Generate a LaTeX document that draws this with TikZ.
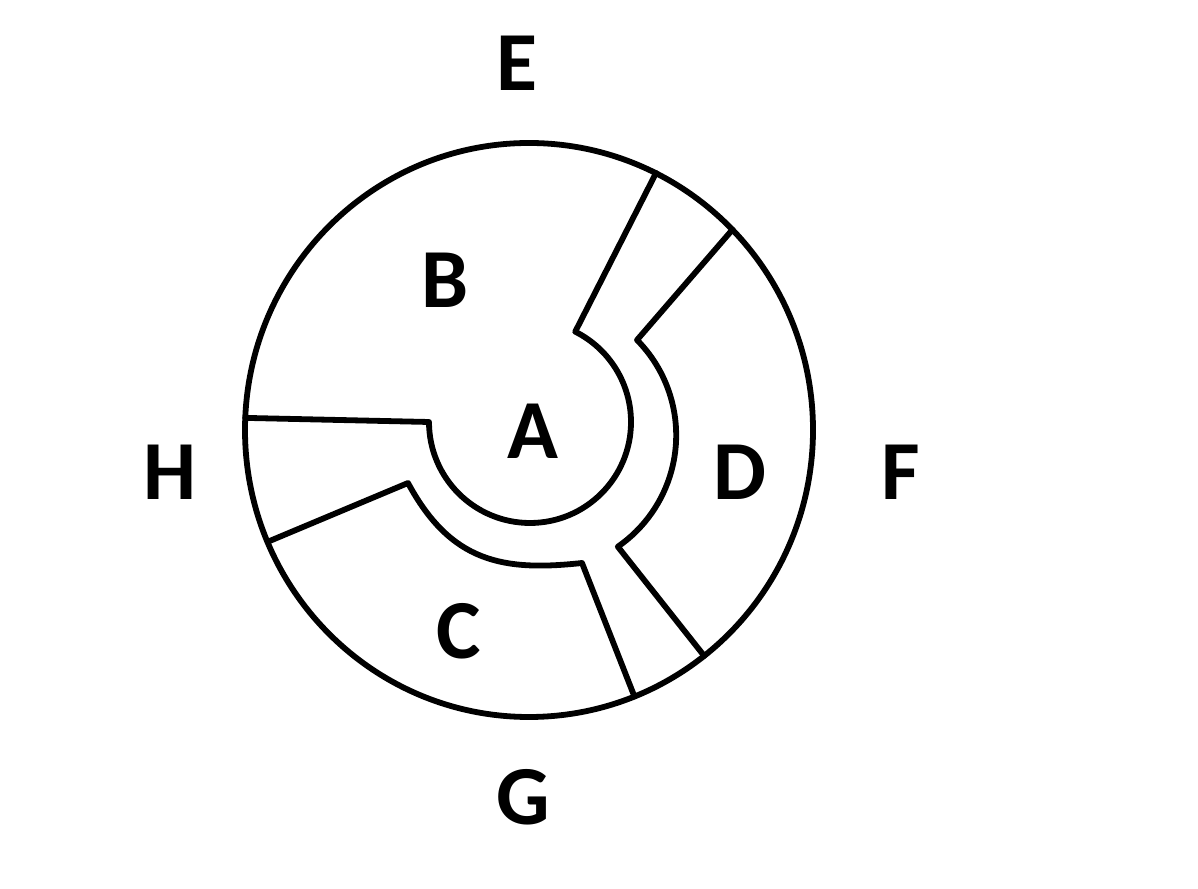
\documentclass[tikz,border=0pt]{standalone}
\usepackage{fontspec}
\setmainfont{Carlito}
\begin{document}
\begin{tikzpicture}[x=0.5pt,y=0.5pt,
  wall/.style={line width=2.9pt, line join=round, line cap=round},
  lab/.style={font=\fontsize{42}{50}\selectfont\bfseries, inner sep=0pt, anchor=center}]
\useasboundingbox (0,0) rectangle (1198,888);
% outer circle
\draw[wall] (529,458) ellipse[x radius=284, y radius=287];
% boundary around A, separating B and H
\coordinate (h1) at (245.2,470.1);
\coordinate (a1) at (429,466);
\coordinate (e1) at (656,715);
\draw[wall] (h1) -- (a1) arc[start angle=180, end angle=423.4, radius=101] -- (e1);
% inner boundary of D
\coordinate (e2) at (732.4,658.3);
\coordinate (d1) at (637,548);
\coordinate (g2) at (704.2,232.1);
\draw[wall] (e2) -- (d1) arc[start angle=44.7, end angle=-55.3, radius=135.5] -- (g2);
% upper boundary of C
\coordinate (h2) at (267.5,346.1);
\coordinate (c1) at (408,405);
\coordinate (c2) at (582,325);
\coordinate (g1) at (634.4,191.5);
\draw[wall] (h2) -- (c1) .. controls (450.8,325.8) and (502.5,316.4) .. (c2) -- (g1);
% labels
\node[lab] (E) at (517,825) {E};
\node[lab] (B) at (445,608) {B};
\node[lab] (A) at (533,457) {A};
\node[lab] (D) at (740,416) {D};
\node[lab] (F) at (901,416) {F};
\node[lab] (H) at (170,416) {H};
\node[lab] (C) at (459,257) {C};
\node[lab] (G) at (523,91) {G};
\end{tikzpicture}
\end{document}
